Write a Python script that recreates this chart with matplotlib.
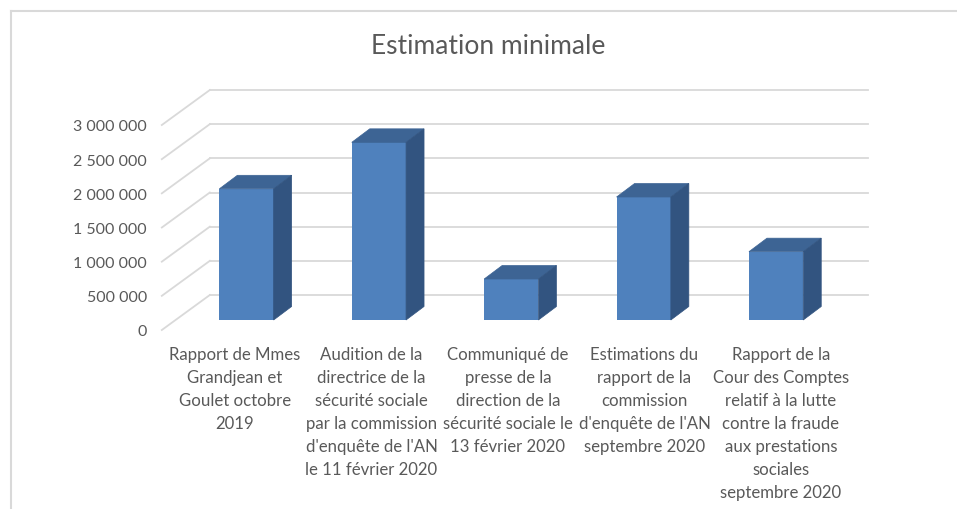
import matplotlib
matplotlib.use("Agg")
import matplotlib.pyplot as plt
from matplotlib.patches import Polygon
from matplotlib.lines import Line2D
from matplotlib.transforms import ScaledTranslation

plt.rcParams['font.family'] = ['Lato', 'DejaVu Sans']

# ---------------- data ----------------
title = "Estimation minimale"
categories = [
    "Rapport de Mmes\nGrandjean et\nGoulet octobre\n2019",
    "Audition de la\ndirectrice de la\nsécurité sociale\npar la commission\nd'enquête de l'AN\nle 11 février 2020",
    "Communiqué de\npresse de la\ndirection de la\nsécurité sociale le\n13 février 2020",
    "Estimations du\nrapport de la\ncommission\nd'enquête de l'AN\nseptembre 2020",
    "Rapport de la\nCour des Comptes\nrelatif à la lutte\ncontre la fraude\naux prestations\nsociales\nseptembre 2020",
]
values = [1920000, 2600000, 600000, 1800000, 1000000]
yticks = [0, 500000, 1000000, 1500000, 2000000, 2500000, 3000000]
ytick_labels = ["0", "500 000", "1 000 000", "1 500 000", "2 000 000", "2 500 000", "3 000 000"]

# ---------------- styling ----------------
W, H, DPI = 957, 510, 100
TXT = "#595959"
GRID = "#d9d9d9"
FRONT = "#4f81bd"
TOP = "#3d6494"
SIDE = "#325480"

fig = plt.figure(figsize=(W / DPI, H / DPI), dpi=DPI)
fig.patch.set_facecolor("white")

# axes = front plane (depth 0) of the 3D box, in pixels
ax_left, ax_w = 165.8, 662.0
ax_bot_img, ax_h = 331, 205
ax = fig.add_axes([ax_left / W, (H - ax_bot_img) / H, ax_w / W, ax_h / H])
ax.set_xlim(-0.5, 4.5)
ax.set_ylim(0, 3000000)
for s in ax.spines.values():
    s.set_visible(False)
ax.set_xticks([])
ax.set_yticks(yticks)
ax.set_yticklabels(ytick_labels, color=TXT, fontsize=11.5)
ax.tick_params(axis='y', length=0, pad=13.5)
ax.patch.set_alpha(0)

px_x = ax_w / 5.0            # pixels per category unit
px_y = ax_h / 3000000.0      # pixels per value unit

def off(dx_px, dy_px):
    return ax.transData + ScaledTranslation(dx_px / DPI, dy_px / DPI, fig.dpi_scale_trans)

# depth of the whole box (pixels)
DEPTH_X, DEPTH_Y = 48, 35
wall_left, wall_right = -0.53, 4.44
back = off(DEPTH_X, DEPTH_Y)

# back wall gridlines and diagonal floor/side lines
for v in yticks:
    ax.plot([wall_left, wall_right], [v, v], color=GRID, lw=1.3, transform=back,
            clip_on=False, zorder=1)
    ax.plot([wall_left, wall_left + DEPTH_X / px_x], [v, v + DEPTH_Y / px_y],
            color=GRID, lw=1.3, clip_on=False, zorder=1)

# bars: front plane at depth offset
bar_off_x, bar_off_y = 14.5, 10
bar_t = off(bar_off_x, bar_off_y)
bw = 0.41
bdx, bdy = 18 / px_x, 13.5 / px_y
xs = list(range(len(values)))
bars = ax.bar(xs, values, width=bw, color=FRONT, zorder=3, clip_on=False)
for b in bars:
    b.set_transform(bar_t)
for x, v in zip(xs, values):
    l, r = x - bw / 2, x + bw / 2
    top = Polygon([[l, v], [r, v], [r + bdx, v + bdy], [l + bdx, v + bdy]], closed=True,
                  facecolor=TOP, edgecolor=TOP, lw=0.5, transform=bar_t, zorder=3, clip_on=False)
    side = Polygon([[r, 0], [r + bdx, bdy], [r + bdx, v + bdy], [r, v]], closed=True,
                   facecolor=SIDE, edgecolor=SIDE, lw=0.5, transform=bar_t, zorder=3, clip_on=False)
    ax.add_patch(top)
    ax.add_patch(side)

# category labels (slightly wider pitch than the bars, as in the reference)
lab_pitch = 136.5 / px_x
lab_t = off(235 - ax_left - 0.5 * px_x, -16)
for i, lab in enumerate(categories):
    ax.text(i * lab_pitch, 0, lab, transform=lab_t, ha='center', va='top', color=TXT,
            fontsize=12.1, linespacing=1.54, clip_on=False, multialignment='center')

# title
fig.text(488 / W, 1 - 54 / H, title, ha='center', va='baseline', color=TXT, fontsize=19)

# chart border (partially cropped)
fig.add_artist(Line2D([11 / W, 11 / W], [0, 1 - 12 / H], color=GRID, lw=1.5))
fig.add_artist(Line2D([11 / W, 1], [1 - 12 / H, 1 - 12 / H], color=GRID, lw=1.5))

fig.savefig("out.png", dpi=DPI, facecolor="white")
